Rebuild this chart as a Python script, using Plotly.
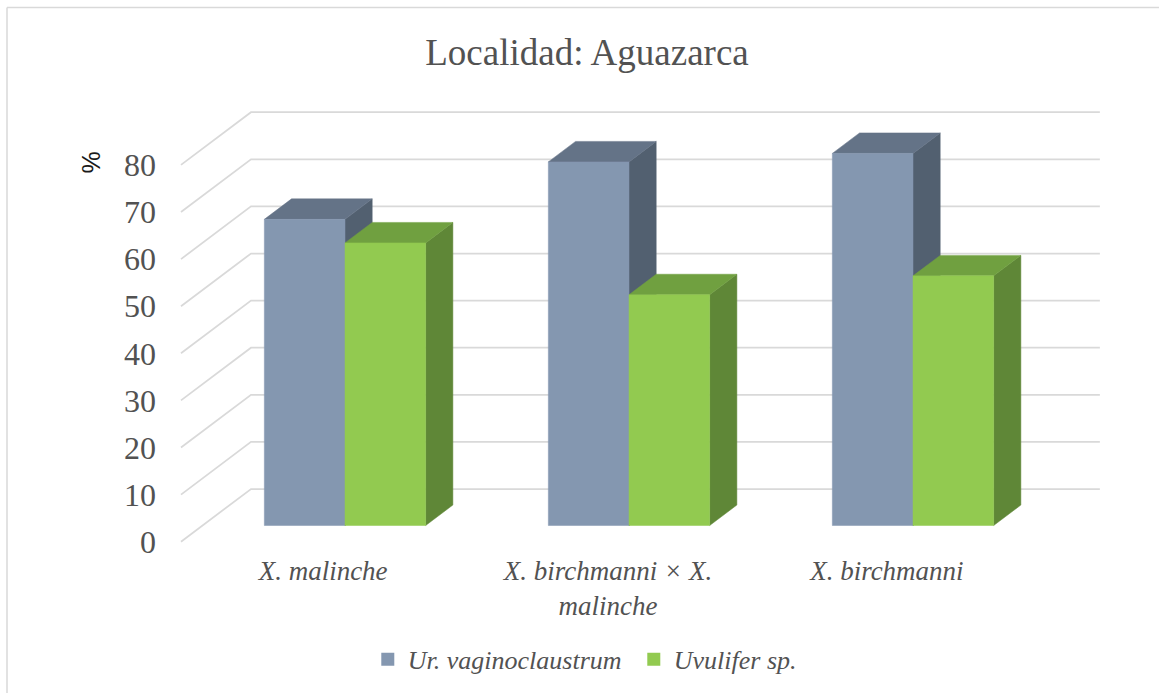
import plotly.graph_objects as go

categories = ["<i>X. malinche</i>", "<i>X. birchmanni × X.<br>malinche</i>", "<i>X. birchmanni</i>"]
series_names = ["<i>Ur. vaginoclaustrum</i>", "<i>Uvulifer sp.</i>"]
vagino_values = [65, 77.2, 79]
uvulifer_values = [60, 49, 53]
y_ticks = [0, 10, 20, 30, 40, 50, 60, 70, 80]

# one x unit = 284 px, one y unit = 4.71 px
BAR_W = 0.284
DEPTH_X = 0.0958
DEPTH_Y = 4.35
BAR_FLOOR = 3.44
WALL_FLOOR = 11.19
SERIF = "Liberation Serif"
TEXT = "#525252"

fig = go.Figure()


def poly(xs, ys, color):
    fig.add_trace(go.Scatter(x=xs + xs[:1], y=ys + ys[:1], mode="lines", fill="toself",
                             fillcolor=color, line=dict(color=color, width=0.5),
                             showlegend=False, hoverinfo="skip"))


def bar3d(left, right, value, front, top, side):
    y0 = BAR_FLOOR
    y1 = BAR_FLOOR + value
    poly([right, right + DEPTH_X, right + DEPTH_X, right],
         [y0, y0 + DEPTH_Y, y1 + DEPTH_Y, y1], side)
    poly([left, left + DEPTH_X, right + DEPTH_X, right],
         [y1, y1 + DEPTH_Y, y1 + DEPTH_Y, y1], top)
    poly([left, right, right, left], [y0, y0, y1, y1], front)


# gridlines: side wall then back wall
grid_x, grid_y = [], []
for t in y_ticks:
    grid_x += [-0.5775, -0.331, 2.658, None]
    grid_y += [t, t + WALL_FLOOR, t + WALL_FLOOR, None]
fig.add_trace(go.Scatter(x=grid_x, y=grid_y, mode="lines", line=dict(color="#D9D9D9", width=1.75),
                         showlegend=False, hoverinfo="skip"))

for i in range(len(categories)):
    bar3d(i - BAR_W, i, vagino_values[i], "#8497B0", "#647387", "#526070")
    bar3d(i, i + BAR_W, uvulifer_values[i], "#92CA50", "#70A040", "#5F8737")

# legend entries only
fig.add_trace(go.Scatter(x=[None], y=[None], mode="markers", name=series_names[0],
                         marker=dict(symbol="square", size=13, color="#8497B0")))
fig.add_trace(go.Scatter(x=[None], y=[None], mode="markers", name=series_names[1],
                         marker=dict(symbol="square", size=13, color="#92CA50")))

fig.update_xaxes(range=[(160 - 345) / 284, (1159 - 345) / 284], showgrid=False, zeroline=False,
                 showline=False, tickmode="array", tickvals=[-0.077, 0.926, 1.908],
                 ticktext=categories, ticks="", tickfont=dict(family=SERIF, size=27, color=TEXT),
                 ticklabelstandoff=7)
fig.update_yaxes(range=[(541.7 - 545) / 4.71, 541.7 / 4.71], showgrid=False, zeroline=False,
                 showline=False, tickmode="array", tickvals=y_ticks, ticks="",
                 tickfont=dict(family=SERIF, size=32, color=TEXT), ticklabelstandoff=3)

fig.update_layout(
    width=1159, height=693, autosize=False,
    margin=dict(l=160, r=0, t=0, b=148, autoexpand=False),
    plot_bgcolor="white", paper_bgcolor="white",
    title=dict(text="Localidad: Aguazarca", x=587 / 1159, y=1 - 52 / 693, xanchor="center", yanchor="middle",
               font=dict(family=SERIF, size=37, color=TEXT)),
    legend=dict(orientation="h", x=0.208, y=-0.21, xanchor="left", yanchor="middle", entrywidth=221,
                font=dict(family=SERIF, size=26, color=TEXT), bgcolor="rgba(0,0,0,0)"),
    annotations=[dict(text="%", xref="paper", yref="y", x=(91 - 160) / 999, y=80.5, textangle=-90,
                      xanchor="center", yanchor="middle", showarrow=False,
                      font=dict(family="Liberation Sans", size=25, color="#1a1a1a"))],
    shapes=[
        dict(type="line", xref="paper", yref="paper", x0=(7 - 160) / 999, x1=1, y0=1 - 7.5 / 545, y1=1 - 7.5 / 545,
             line=dict(color="#D9D9D9", width=1.5)),
        dict(type="line", xref="paper", yref="paper", x0=(7 - 160) / 999, x1=(7 - 160) / 999, y0=1 - 693 / 545, y1=1 - 7.5 / 545,
             line=dict(color="#D9D9D9", width=1.5)),
    ],
)

fig.write_html("out.html", config=dict(displayModeBar=False),
               post_script="document.body.style.margin='0';document.documentElement.style.overflow='hidden';")
